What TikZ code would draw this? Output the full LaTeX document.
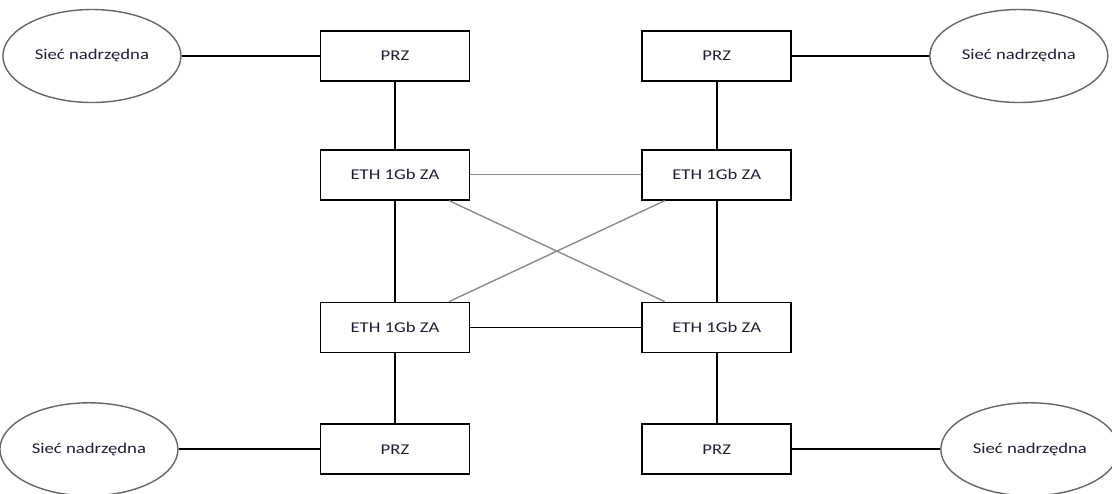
\documentclass[tikz,border=0pt]{standalone}
\usepackage{fontspec}
\setmainfont{Carlito}[FakeStretch=1.25]
\usepackage{tikz}
\usetikzlibrary{shapes,positioning,calc}
\definecolor{txt}{RGB}{30,30,55}

\begin{document}
\begin{tikzpicture}[
    every node/.style={font=\fontsize{8.5}{10}\selectfont,text=txt},
    box/.style={draw,line width=1pt,minimum width=2.98cm,minimum height=1cm},
    siec/.style={draw=black!60,ellipse,line width=0.8pt,minimum width=3.46cm,minimum height=1.86cm},
    link/.style={line width=1pt},
    faint/.style={draw=black!45,line width=0.8pt}
  ]
  \useasboundingbox (0,0) rectangle (22.24,-9.86);
  \node[box] at (7.9,-1.12)(prz1){PRZ};
  \node[box,right=3.42cm of prz1](prz2){PRZ};
  \node[box,below=1.34cm of prz1](eth1){ETH 1Gb ZA};
  \node[box,below=1.34cm of prz2](eth2){ETH 1Gb ZA};
  \node[box,below=2.02cm of eth1](eth3){ETH 1Gb ZA};
  \node[box,below=2.02cm of eth2](eth4){ETH 1Gb ZA};
  \node[box,below=1.4cm of eth3](prz3){PRZ};
  \node[box,below=1.4cm of eth4](prz4){PRZ};
  \node[siec,left=2.76cm of prz1](s1){Sieć nadrzędna};
  \node[siec,right=2.74cm of prz2](s2){Sieć nadrzędna};
  \node[siec,left=2.82cm of prz3](s3){Sieć nadrzędna};
  \node[siec,right=2.96cm of prz4](s4){Sieć nadrzędna};

  \draw[link] (s1) -- (prz1);
  \draw[link] (prz2) -- (s2);
  \draw[link] (s3) -- (prz3);
  \draw[link] (prz4) -- (s4);
  \draw[link] (prz1) -- (eth1);
  \draw[link] (prz2) -- (eth2);
  \draw[link] (eth1) -- (eth3);
  \draw[link] (eth2) -- (eth4);
  \draw[link] (eth3) -- (prz3);
  \draw[link] (eth4) -- (prz4);
  \draw[link] (eth3) -- (eth4);
  \draw[faint] (eth1) -- (eth2);
  \draw[faint] ($(eth1.south)+(1.08,0)$) -- ($(eth4.north)+(-1.04,0)$);
  \draw[faint] ($(eth2.south)+(-1.04,0)$) -- ($(eth3.north)+(1.08,0)$);
\end{tikzpicture}
\end{document}
